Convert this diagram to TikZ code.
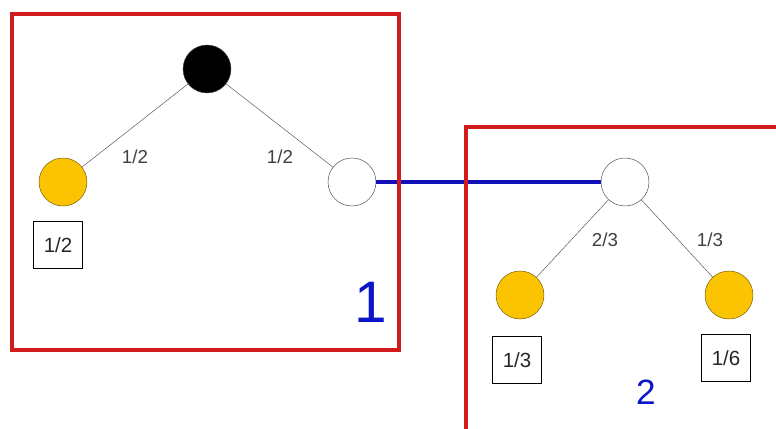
\documentclass[tikz,border=0pt]{standalone}
\usepackage{fontspec}
\setmainfont{Liberation Sans}
\usepackage{tikz}
\usetikzlibrary{positioning}
\definecolor{framered}{HTML}{D01C1C}
\definecolor{linkblue}{HTML}{1010B8}
\definecolor{labelblue}{HTML}{0A14C8}
\definecolor{leafgold}{HTML}{FCC400}
\definecolor{leafedge}{HTML}{6B5A10}
\definecolor{edgegray}{HTML}{555555}
\begin{document}
\begin{tikzpicture}[
  x=0.3mm, y=-0.3mm,
  treenode/.style={
    circle, minimum size=14.4mm, inner sep=0pt,
    draw=black!70, line width=0.4pt,
  },
  leafnode/.style={treenode, fill=leafgold, draw=leafedge},
  probbox/.style={
    rectangle, draw=black, line width=0.5pt,
    minimum width=14.7mm, minimum height=14.1mm, inner sep=0pt,
    font=\fontsize{17.5}{20}\selectfont, text=black!85,
  },
  problabel/.style={font=\fontsize{16}{18}\selectfont, text=black!75},
  framebox/.style={draw=framered, line width=1.2mm},
]
\fill[white] (0,0) rectangle (776,428);
\clip (0,0) rectangle (776,428);

% Region 1
\node[treenode, fill=black] (root) at (207,69) {};
\node[leafnode] (leafA) at (63,182) {};
\node[treenode, fill=white] (chance1) at (352,182) {};
\node[probbox] (valA) at (58,245) {1/2};
\draw[edgegray] (root) -- (leafA);
\draw[edgegray] (root) -- (chance1);
\node[problabel] (pA) at (135,157) {1/2};
\node[problabel] (pB) at (280,157) {1/2};

% Region 2
\node[treenode, fill=white] (chance2) at (625,182) {};
\node[leafnode] (leafB) at (520,295) {};
\node[leafnode] (leafC) at (729,295) {};
\node[probbox] (valB) at (517,360) {1/3};
\node[probbox] (valC) at (726,358) {1/6};
\draw[edgegray] (chance2) -- (leafB);
\draw[edgegray] (chance2) -- (leafC);
\node[problabel] (pC) at (605,240) {2/3};
\node[problabel] (pD) at (710,240) {1/3};

% link and frames
\draw[linkblue, line width=1.1mm] (chance1.east) -- (chance2.west);
\draw[framebox] (12,14) rectangle (399,350);
\draw[framebox] (466,127) rectangle (800,450);
\node[font=\fontsize{50}{50}\selectfont, text=labelblue] (region1) at (371,302) {1};
\node[font=\fontsize{30}{30}\selectfont, text=labelblue] (region2) at (646,392) {2};

\end{tikzpicture}
\end{document}
